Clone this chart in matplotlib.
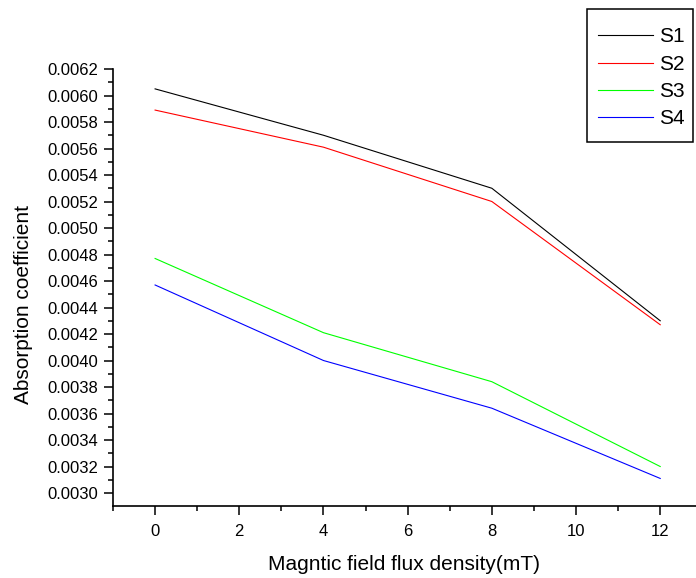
import matplotlib
matplotlib.use("Agg")
import matplotlib.pyplot as plt
from matplotlib.patches import Rectangle
from matplotlib.ticker import MultipleLocator, FormatStrFormatter

plt.rcParams['font.family'] = ['Liberation Sans', 'DejaVu Sans']

x_values = [0, 4, 8, 12]
s1 = [0.00605, 0.00570, 0.00530, 0.00430]
s2 = [0.00589, 0.00561, 0.00520, 0.00427]
s3 = [0.00477, 0.00421, 0.00384, 0.00320]
s4 = [0.00457, 0.00400, 0.00364, 0.00311]
series_labels = ['S1', 'S2', 'S3', 'S4']
series_colors = ['#000000', '#ff0000', '#00ff00', '#0000ff']

W, H = 696, 578
fig = plt.figure(figsize=(W / 100, H / 100), dpi=100)
ax = fig.add_axes([113 / W, 1 - 506 / H, (W - 113) / W, (506 - 69) / H])

for ys, lab, col in zip([s1, s2, s3, s4], series_labels, series_colors):
    ax.plot(x_values, ys, color=col, lw=0.8, label=lab)

ax.set_xlim(-1, 12.85)
ax.set_ylim(0.002902, 0.0062)
ax.xaxis.set_major_locator(MultipleLocator(2))
ax.xaxis.set_minor_locator(MultipleLocator(1))
ax.yaxis.set_major_locator(MultipleLocator(0.0002))
ax.yaxis.set_minor_locator(MultipleLocator(0.0001))
ax.yaxis.set_major_formatter(FormatStrFormatter('%.4f'))

for side in ['top', 'right']:
    ax.spines[side].set_visible(False)
for side in ['left', 'bottom']:
    ax.spines[side].set_linewidth(1.2)

ax.tick_params(axis='both', which='major', direction='out', length=6.7, width=1.1,
               labelsize=12, color='black')
ax.tick_params(axis='both', which='minor', direction='out', length=3.3, width=1.1)
ax.tick_params(axis='y', which='major', pad=4)
ax.tick_params(axis='x', which='major', pad=6)

ax.set_xlabel('Magntic field flux density(mT)', fontsize=15)
ax.set_ylabel('Absorption coefficient', fontsize=15)
ax.xaxis.set_label_coords(0.5, -0.112)
ax.yaxis.set_label_coords(-0.137, 0.46)

# legend box frame (figure pixel geometry of the reference)
ax.add_patch(Rectangle((587 / W, 1 - 142 / H), (693 - 587) / W, (142 - 9) / H,
                       transform=fig.transFigure, facecolor='white',
                       edgecolor='black', linewidth=1.1, zorder=5, clip_on=False))

leg = ax.legend(loc='upper left', bbox_to_anchor=(598 / W, 1 - 27.5 / H),
                bbox_transform=fig.transFigure, borderaxespad=0, borderpad=0,
                fontsize=15, frameon=False,
                handlelength=2.62, handletextpad=0.3, labelspacing=0.4)
leg.set_zorder(6)

fig.savefig('out.png', dpi=100)
